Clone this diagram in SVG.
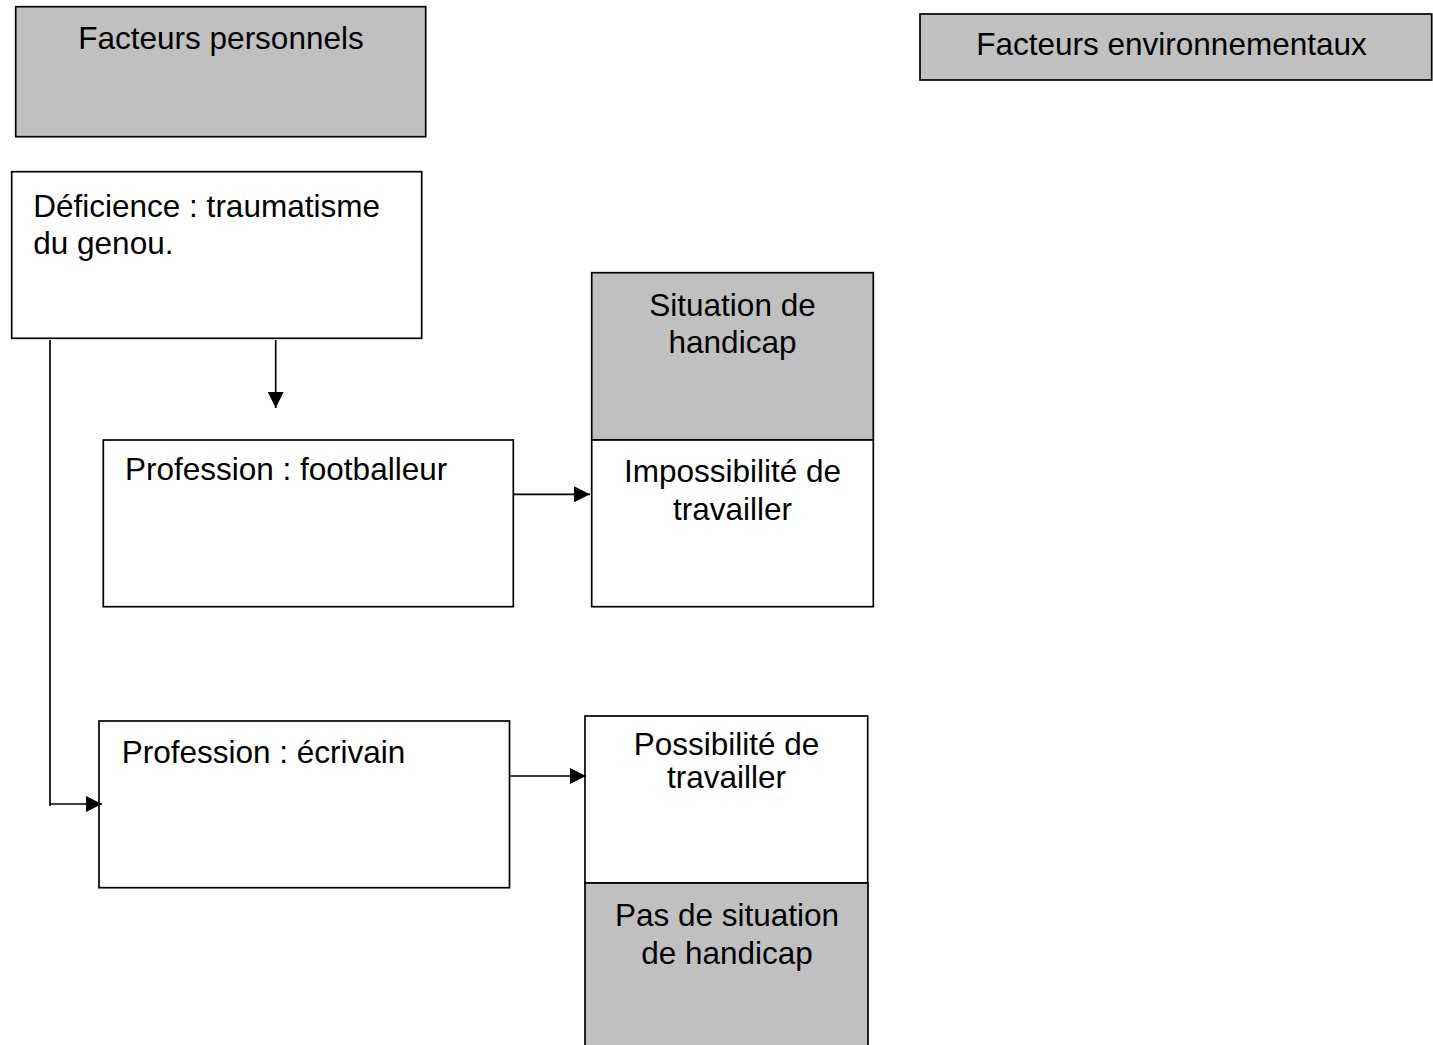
<svg xmlns="http://www.w3.org/2000/svg" width="1433" height="1045" viewBox="0 0 1433 1045">
  <style>
    .box { stroke: #000; stroke-width: 1.7; }
    .grey { fill: #c0c0c0; }
    .white { fill: #fff; }
    .lbl { font-family: "Liberation Sans", Arial, sans-serif; font-size: 31.5px; fill: #000; }
    .mid { text-anchor: middle; }
    .wire { fill: none; stroke: #000; stroke-width: 1.7; }
  </style>
  <defs>
    <marker id="head" viewBox="0 0 16 16" refX="16" refY="8" markerWidth="16" markerHeight="16" markerUnits="userSpaceOnUse" orient="auto">
      <path d="M0,0 L16,8 L0,16 z" fill="#000"/>
    </marker>
  </defs>
  <rect width="1433" height="1045" fill="#fff"/>

  <g id="facteurs-personnels">
    <rect class="box grey" x="15.7" y="6.7" width="410" height="130"/>
    <text class="lbl mid" x="221" y="49.3">Facteurs personnels</text>
  </g>

  <g id="facteurs-environnementaux">
    <rect class="box grey" x="920" y="14" width="511.7" height="66"/>
    <text class="lbl mid" x="1171.5" y="55">Facteurs environnementaux</text>
  </g>

  <g id="deficience">
    <rect class="box white" x="11.7" y="171.7" width="410" height="166.6"/>
    <text class="lbl" x="33.3" y="216.7">Déficience : traumatisme</text>
    <text class="lbl" x="33.3" y="254">du genou.</text>
  </g>

  <g id="situation-handicap">
    <rect class="box grey" x="591.7" y="272.7" width="281.6" height="167.3"/>
    <text class="lbl mid" x="732.5" y="315.7">Situation de</text>
    <text class="lbl mid" x="732.5" y="353">handicap</text>
  </g>

  <g id="impossibilite">
    <rect class="box white" x="591.7" y="440" width="281.6" height="166.7"/>
    <text class="lbl mid" x="732.5" y="481.7">Impossibilité de</text>
    <text class="lbl mid" x="732.5" y="520">travailler</text>
  </g>

  <g id="footballeur">
    <rect class="box white" x="103.3" y="440" width="410" height="166.7"/>
    <text class="lbl" x="125" y="480">Profession : footballeur</text>
  </g>

  <g id="ecrivain">
    <rect class="box white" x="99" y="721" width="410.5" height="166.7"/>
    <text class="lbl" x="121.7" y="763.3">Profession : écrivain</text>
  </g>

  <g id="possibilite">
    <rect class="box white" x="585" y="716" width="282.7" height="167"/>
    <text class="lbl mid" x="726.5" y="755">Possibilité de</text>
    <text class="lbl mid" x="726.5" y="788.3">travailler</text>
  </g>

  <g id="pas-de-situation">
    <rect class="box grey" x="585" y="883" width="283" height="175"/>
    <text class="lbl mid" x="727" y="925.7">Pas de situation</text>
    <text class="lbl mid" x="727" y="964.3">de handicap</text>
  </g>

  <g id="connectors">
    <line class="wire" x1="275.7" y1="340" x2="275.7" y2="408" marker-end="url(#head)"/>
    <polyline class="wire" points="50,340 50,806"/>
    <line class="wire" x1="50" y1="804" x2="102" y2="804" marker-end="url(#head)"/>
    <line class="wire" x1="514" y1="494.3" x2="590" y2="494.3" marker-end="url(#head)"/>
    <line class="wire" x1="510" y1="776" x2="586" y2="776" marker-end="url(#head)"/>
  </g>
</svg>
